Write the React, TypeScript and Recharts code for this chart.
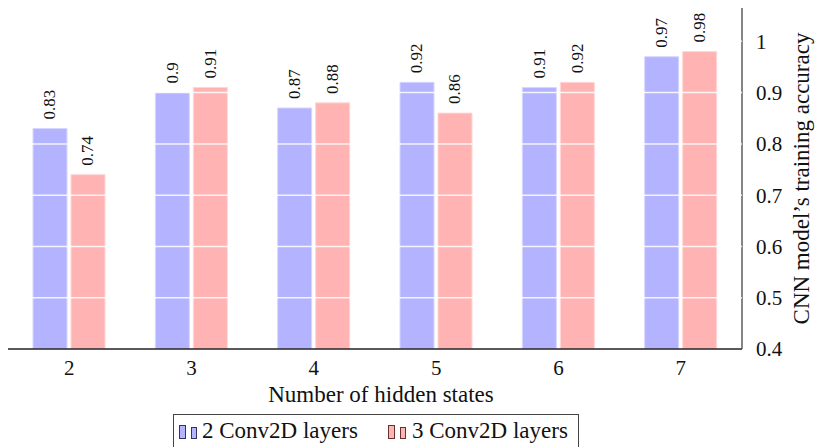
import { BarChart, Bar, XAxis, YAxis, ReferenceLine, LabelList } from 'recharts';

// ---------------------------------------------------------------------------
// Data
// ---------------------------------------------------------------------------

const hiddenStates = ['2', '3', '4', '5', '6', '7'];
const twoConvLayers = [0.83, 0.9, 0.87, 0.92, 0.91, 0.97];
const threeConvLayers = [0.74, 0.91, 0.88, 0.86, 0.92, 0.98];
const yTicks = [0.4, 0.5, 0.6, 0.7, 0.8, 0.9, 1];
const gridLines = [0.5, 0.6, 0.7, 0.8, 0.9, 1];

const BLUE = '#b3b3ff';
const RED = '#ffb3b3';
const FONT = 'Liberation Serif';

const data = hiddenStates.map((s, i) => ({
  states: s,
  two: twoConvLayers[i],
  three: threeConvLayers[i],
}));

// Rotated value label above each bar
function ValueLabel(props: any) {
  const { x, y, width, value } = props;
  const cx = x + width / 2;
  const ty = y - 9;
  return (
    <text
      x={cx}
      y={ty}
      transform={`rotate(-90, ${cx}, ${ty})`}
      textAnchor="start"
      dominantBaseline="central"
      fontFamily={FONT}
      fontSize={17}
      fill="#111"
    >
      {value}
    </text>
  );
}

function LegendIcon({ color, border }: { color: string; border: string }) {
  return (
    <svg width={20} height={16} style={{ display: 'block' }}>
      <rect x={0.5} y={0.5} width={6} height={13} fill={color} stroke={border} strokeWidth={1} />
      <rect x={12.5} y={2.5} width={5} height={11} fill={color} stroke={border} strokeWidth={1} />
    </svg>
  );
}

export default function App() {
  return (
    <div style={{ position: 'absolute', left: 0, top: 0, width: 815, height: 447, background: '#fff', overflow: 'hidden' }}>
      <BarChart
        width={815}
        height={447}
        data={data}
        margin={{ top: 8, right: 0, left: 8, bottom: 0 }}
        barSize={34}
        barGap={4}
      >
        <XAxis
          dataKey="states"
          height={98}
          axisLine={{ stroke: '#222', strokeWidth: 1.3 }}
          tickLine={false}
          tickMargin={5}
          tick={{ fontFamily: FONT, fontSize: 21, fill: '#111' }}
          label={{
            value: 'Number of hidden states',
            position: 'insideTop',
            offset: 37,
            dx: 6,
            style: { fontFamily: FONT, fontSize: 23, fill: '#111' },
          }}
        />
        <YAxis
          orientation="right"
          width={73}
          domain={[0.4, 1.065]}
          allowDataOverflow
          ticks={yTicks}
          tickFormatter={(v: number) => String(v)}
          axisLine={{ stroke: '#444', strokeWidth: 1.3 }}
          tickLine={false}
          tickMargin={8}
          tick={{ fontFamily: FONT, fontSize: 21, fill: '#111' }}
          label={{
            value: 'CNN model\u2019s training accuracy',
            angle: -90,
            position: 'center',
            dx: 22,
            style: { fontFamily: FONT, fontSize: 23, fill: '#111', textAnchor: 'middle' },
          }}
        />
        <Bar dataKey="two" name="2 Conv2D layers" fill={BLUE} stroke="#d6d6ff" strokeWidth={1} isAnimationActive={false}>
          <LabelList dataKey="two" content={<ValueLabel />} />
        </Bar>
        <Bar dataKey="three" name="3 Conv2D layers" fill={RED} stroke="#ffd6d6" strokeWidth={1} isAnimationActive={false}>
          <LabelList dataKey="three" content={<ValueLabel />} />
        </Bar>
        {gridLines.map(v => (
          <ReferenceLine key={v} y={v} stroke="#ffffff" strokeOpacity={0.85} strokeWidth={1.5} zIndex={1000} />
        ))}
      </BarChart>
      <div
        style={{
          position: 'absolute',
          left: 173,
          top: 414,
          width: 406,
          height: 45,
          border: '1px solid #444',
          boxSizing: 'border-box',
          fontFamily: FONT,
          fontSize: 23,
          color: '#111',
          whiteSpace: 'nowrap',
        }}
      >
        <div style={{ position: 'absolute', left: 5, top: 10 }}>
          <LegendIcon color={BLUE} border="#333366" />
        </div>
        <div style={{ position: 'absolute', left: 28, top: 2, lineHeight: '28px' }}>2 Conv2D layers</div>
        <div style={{ position: 'absolute', left: 214, top: 10 }}>
          <LegendIcon color={RED} border="#663333" />
        </div>
        <div style={{ position: 'absolute', left: 238, top: 2, lineHeight: '28px' }}>3 Conv2D layers</div>
      </div>
    </div>
  );
}
